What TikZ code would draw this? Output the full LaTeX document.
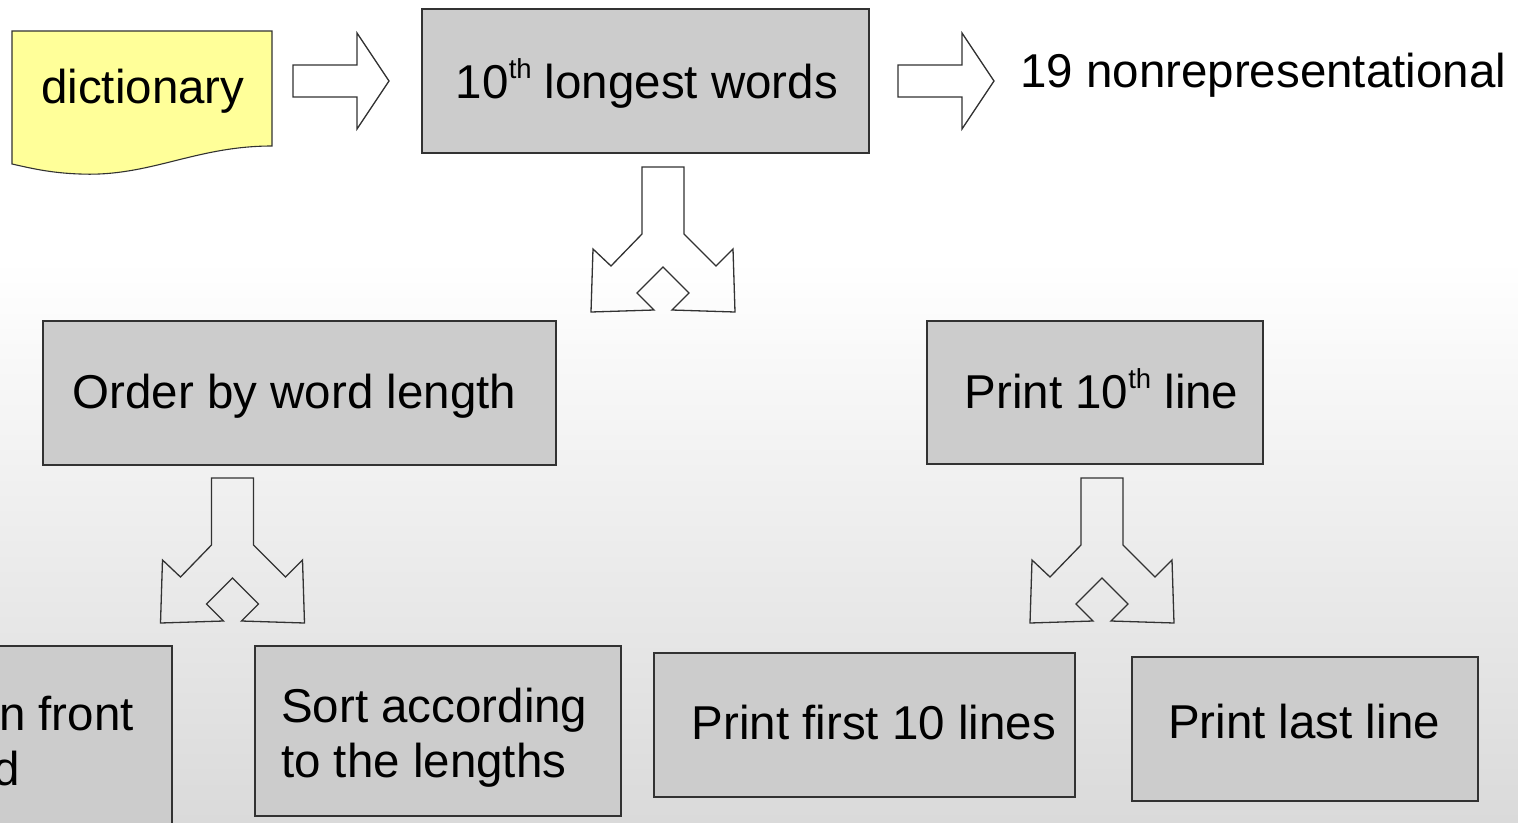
\documentclass[tikz,border=0pt]{standalone}
\usepackage{fontspec}
\setmainfont{Liberation Sans}

\definecolor{boxfill}{RGB}{204,204,204}
\definecolor{boxline}{RGB}{50,50,50}
\definecolor{docfill}{RGB}{255,255,153}
\definecolor{bgbottom}{RGB}{218,218,218}

% raised ordinal suffix
\newcommand\ordsup[1]{\raisebox{20pt}{\fontsize{27.5}{27.5}\selectfont #1}}

\tikzset{
  stepbox/.style={draw=boxline, fill=boxfill, line width=1.2pt, inner sep=0pt},
  txt/.style={font=\fontsize{47.5}{54.6}\selectfont, inner sep=0pt, text=black},
  pics/blockarrow/.style={code={
    \draw[boxline, line width=1.3pt, fill=white, line join=miter]
      (0,-16) -- (64,-16) -- (64,-48) -- (96,0) -- (64,48) -- (64,16) -- (0,16) -- cycle;
  }},
  pics/splitarrow/.style={code={
    \draw[boxline, line width=1.3pt, line join=miter]
      (-21,0) -- (21,0) -- (21,67) -- (53,99) -- (70,82) -- (72,145) -- (9,143)
      -- (26,126) -- (0,100) -- (-26,126) -- (-9,143) -- (-72,145) -- (-70,82)
      -- (-52,99) -- (-21,67) -- cycle;
  }},
}

\begin{document}
\begin{tikzpicture}[x=1pt, y=-1pt]
  % page area and background
  \useasboundingbox (0,0) rectangle (1518,822);
  \clip (0,0) rectangle (1518,822);
  \fill[white] (0,0) rectangle (1518,262);
  \shade[top color=white, bottom color=bgbottom] (0,260) rectangle (1518,822);

  % input document
  \coordinate (docNW) at (12,31);
  \coordinate (docNE) at (272,31);
  \coordinate (docSE) at (272,146);
  \coordinate (docSW) at (12,164);
  \draw[boxline, line width=1.1pt, fill=docfill]
    (docNW) -- (docNE) -- (docSE)
    .. controls (195,146) and (150,177) .. (80,174)
    .. controls (50,173) and (30,168) .. (docSW) -- cycle;
  \node[txt, anchor=base west] (dict) at (41,103) {dictionary};

  % top row
  \pic at (293,81) {blockarrow};
  \node[stepbox, minimum width=447pt, minimum height=144pt] (longest) at (645.5,81) {};
  \node[txt, anchor=base] (longestT) at (647,98) {10\ordsup{th} longest words};
  \pic at (898,81) {blockarrow};
  \node[txt, anchor=base west] (result) at (1020,87) {19 nonrepresentational};

  % first split
  \pic at (663,167) {splitarrow};
  \node[stepbox, minimum width=513pt, minimum height=144pt] (order) at (299.5,393) {};
  \node[txt, anchor=base] (orderT) at (294.5,408) {Order by word length};
  \node[stepbox, minimum width=336pt, minimum height=143pt] (tenth) at (1095,392.5) {};
  \node[txt, anchor=base] (tenthT) at (1101.5,408) {Print 10\ordsup{th} line};

  % second level splits
  \pic at (232.5,478) {splitarrow};
  \pic at (1102,478) {splitarrow};

  % bottom row
  \node[stepbox, minimum width=372pt, minimum height=254pt] (prefix) at (-14,773) {};
  \node[txt, anchor=base east] (prefixA) at (134,730) {n front};
  \node[txt, anchor=base east] (prefixB) at (20,785) {d};

  \node[stepbox, minimum width=366pt, minimum height=170pt] (sort) at (438,731) {};
  \node[txt, anchor=base west] (sortA) at (281,722) {Sort according};
  \node[txt, anchor=base west] (sortB) at (281,777) {to the lengths};

  \node[stepbox, minimum width=421pt, minimum height=144pt] (first) at (864.5,725) {};
  \node[txt, anchor=base] (firstT) at (874,739) {Print first 10 lines};

  \node[stepbox, minimum width=346pt, minimum height=144pt] (last) at (1305,729) {};
  \node[txt, anchor=base] (lastT) at (1304,738) {Print last line};
\end{tikzpicture}
\end{document}
